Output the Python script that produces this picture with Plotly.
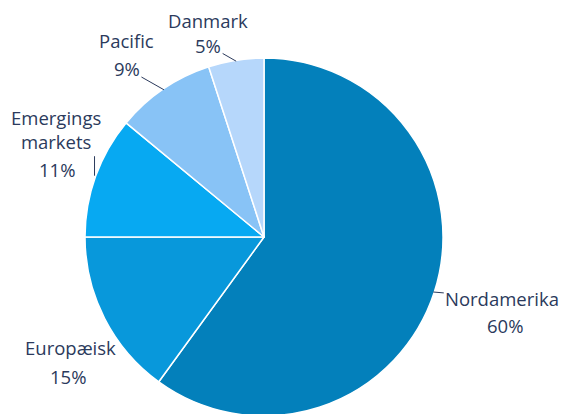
import math
import plotly.graph_objects as go

labels = ["Nordamerika", "Europæisk", "Emergings<br>markets", "Pacific", "Danmark"]
values = [60, 15, 11, 9, 5]
colors = ["#0380bb", "#0898db", "#07a9f2", "#88c3f6", "#b6d7fb"]

W, H = 567, 414
OFF = 8                      # browser body margin
CX, CY, R = 264, 237, 179    # pie centre / radius on screen
TXT = "#2b3a5c"
FONT = dict(family="Open Sans, sans-serif", size=18.5, color=TXT)

cx, cy = CX - OFF, CY - OFF
fig = go.Figure(go.Pie(
    labels=labels,
    values=values,
    sort=False,
    direction="clockwise",
    rotation=0,
    marker=dict(colors=colors, line=dict(color="white", width=1.5)),
    textinfo="none",
    domain=dict(x=[(cx - R) / W, (cx + R) / W],
                y=[max(0, (H - cy - R) / H), (H - cy + R) / H]),
    showlegend=False,
    hoverinfo="skip",
))

# label layout: offsets (pixels) of name / percent text from the slice's edge point
label_style = {
    "Nordamerika": dict(name=(69, 6), pct=(72, 33), arrow="name"),
    "Europæisk": dict(name=(-35, 30), pct=(-37, 59), arrow=None),
    "Emergings<br>markets": dict(name=(-41, -47), pct=(-40, -7), arrow="line"),
    "Pacific": dict(name=(-37, -49), pct=(-37, -21), arrow="pct"),
    "Danmark": dict(name=(-28, -41), pct=(-28, -16), arrow="pct"),
}

def to_paper(sx, sy):
    return (sx - OFF) / W, 1 - (sy - OFF) / H

total = sum(values)
ann = []
cum = 0
for lab, v in zip(labels, values):
    mid = (cum + v / 2) / total * 2 * math.pi
    cum += v
    tx = CX + (R - 1) * math.sin(mid)
    ty = CY - (R - 1) * math.cos(mid)
    st = label_style[lab]
    pct = f"{round(100 * v / total)}%"
    for key, text in (("name", lab), ("pct", pct)):
        dx, dy = st[key]
        if st["arrow"] == key:
            px, py = to_paper(tx, ty)
            ann.append(dict(x=px, y=py, xref="paper", yref="paper", text=text,
                            showarrow=True, ax=dx, ay=dy, arrowhead=0,
                            arrowwidth=1, arrowcolor=TXT, standoff=0,
                            font=FONT, align="center"))
        else:
            px, py = to_paper(tx + dx, ty + dy)
            ann.append(dict(x=px, y=py, xref="paper", yref="paper", text=text,
                            showarrow=False, xanchor="center", yanchor="middle",
                            font=FONT, align="center"))
    if st["arrow"] == "line":
        px, py = to_paper(tx - 2, ty - 1)
        ann.append(dict(x=px, y=py, xref="paper", yref="paper", text="",
                        showarrow=True, ax=0, ay=-21, arrowhead=0,
                        arrowwidth=1, arrowcolor=TXT, standoff=0))

fig.update_layout(
    width=W, height=H,
    margin=dict(l=0, r=0, t=0, b=0, autoexpand=False),
    paper_bgcolor="white",
    plot_bgcolor="white",
    annotations=ann,
)
fig.write_html("out.html")
